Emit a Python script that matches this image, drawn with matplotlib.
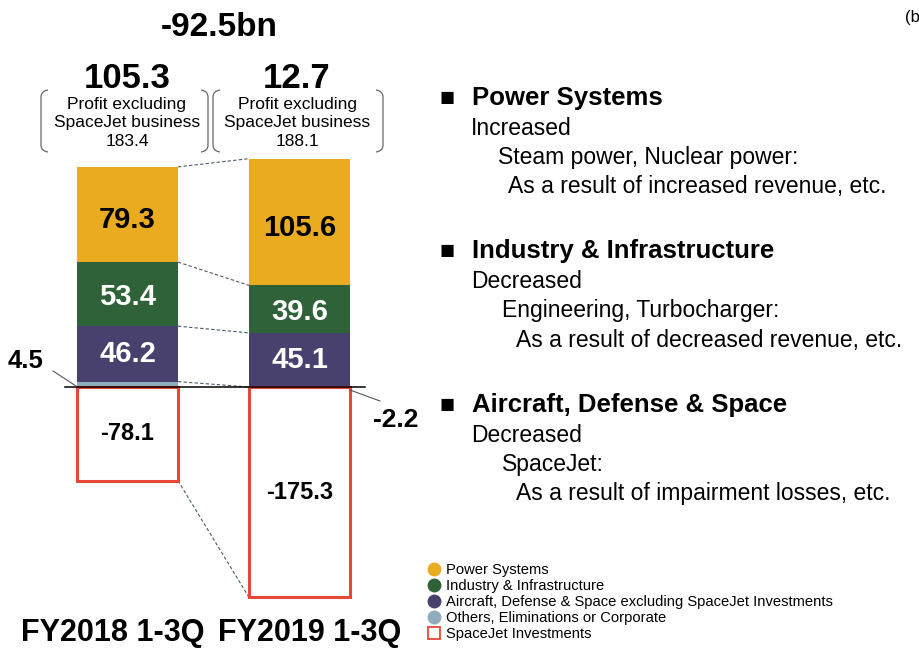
import numpy as np
import matplotlib
matplotlib.use("Agg")
import matplotlib.pyplot as plt
from matplotlib.lines import Line2D
from matplotlib.path import Path
from matplotlib.patches import PathPatch

plt.rcParams["font.family"] = ["Liberation Sans", "DejaVu Sans"]

# --- Data (billion yen) ---
periods = ["FY2018 1-3Q", "FY2019 1-3Q"]
power = [79.3, 105.6]
industry = [53.4, 39.6]
aircraft = [46.2, 45.1]
others = [4.5, -2.2]
spacejet = [-78.1, -175.3]
totals = ["105.3", "12.7"]
excl_spacejet = ["183.4", "188.1"]
change_label = "-92.5bn"

legend_labels = ["Power Systems", "Industry & Infrastructure",
                 "Aircraft, Defense & Space excluding SpaceJet Investments",
                 "Others, Eliminations or Corporate", "SpaceJet Investments"]

C_POWER = "#E9AB20"
C_IND = "#2F6239"
C_AIR = "#48416E"
C_OTH = "#8FACBC"
C_SJ = "#E84637"
C_DASH = "#4A5A6A"

W, H = 920, 648
fig = plt.figure(figsize=(W / 100, H / 100), dpi=100)


def P(x, y):
    """pixel (from top-left) -> figure fraction"""
    return x / W, 1 - y / H


# axes over whole figure; bar 0 centred at px 127.5, bar 1 at px 299.5, zero at px 387
ax = fig.add_axes([0, 0, 1, 1])
XS = 172.0
YS = 1.2
ax.set_xlim(-127.5 / XS, (W - 127.5) / XS)
ax.set_ylim(-(H - 387) / YS, 387 / YS)
ax.axis("off")

x = np.arange(len(periods))
bw = 101 / XS

oth_pos = np.array(others)
air = np.array(aircraft)
ind = np.array(industry)
pw = np.array(power)
base = np.where(oth_pos > 0, oth_pos, 0)

ax.bar(x, oth_pos, width=bw, color=C_OTH, zorder=2)
ax.bar(x, air, bottom=base, width=bw, color=C_AIR, zorder=2)
ax.bar(x, ind, bottom=base + air, width=bw, color=C_IND, zorder=2)
ax.bar(x, pw, bottom=base + air + ind, width=bw, color=C_POWER, zorder=2)
ax.bar(x, spacejet, width=bw, facecolor="white", edgecolor=C_SJ, linewidth=2.2, zorder=3)

# segment labels
for i in range(len(x)):
    ax.text(x[i], base[i] + air[i] / 2, f"{aircraft[i]}", ha="center", va="center",
            color="white", fontsize=21, fontweight="bold", zorder=5)
    ax.text(x[i], base[i] + air[i] + ind[i] / 2 - 2, f"{industry[i]}", ha="center", va="center",
            color="white", fontsize=21, fontweight="bold", zorder=5)
    ax.text(x[i], base[i] + air[i] + ind[i] + pw[i] / 2 - 5, f"{power[i]}", ha="center",
            va="center", color="black", fontsize=21, fontweight="bold", zorder=5)
    ax.text(x[i], spacejet[i] / 2, f"{spacejet[i]}", ha="center", va="center",
            color="black", fontsize=17, fontweight="bold", zorder=5)

# dashed connectors between the bars
levels = [base + air + ind + pw, base + air + ind, base + air, base]
for lv in levels:
    ax.plot([x[0] + bw / 2, x[1] - bw / 2], [lv[0], lv[1]], color=C_DASH,
            lw=0.8, ls=(0, (3, 2)), zorder=1)
ax.plot([x[0] + bw / 2, x[1] - bw / 2], [spacejet[0], spacejet[1]], color=C_DASH,
        lw=0.8, ls=(0, (3, 2)), zorder=1)

# zero line
ax.axhline(0, xmin=65 / W, xmax=365 / W, color="black", lw=1.1, zorder=4)

# others labels with leader lines
fig.text(*P(26, 361), f"{others[0]}", ha="center", va="center", fontsize=18.5, fontweight="bold")
fig.add_artist(Line2D([P(53, 371)[0], P(76, 386)[0]], [P(53, 371)[1], P(76, 386)[1]],
                      color="#555555", lw=0.8, transform=fig.transFigure))
fig.text(*P(396, 420), f"{others[1]}", ha="center", va="center", fontsize=19, fontweight="bold")
fig.add_artist(Line2D([P(350, 390)[0], P(380, 401)[0]], [P(350, 390)[1], P(380, 401)[1]],
                      color="#555555", lw=0.8, transform=fig.transFigure))

# top headline
fig.text(*P(219, 27), change_label, ha="center", va="center", fontsize=24, fontweight="bold")
fig.text(*P(905, 22), "(bn yen)", ha="left", va="baseline", fontsize=12)

# totals + "profit excluding SpaceJet" boxes
centres = [127, 297]
brackets = [(41, 208), (213, 383)]
for i, cx in enumerate(centres):
    fig.text(*P(cx, 88), totals[i], ha="center", va="baseline", fontsize=25, fontweight="bold")
    fig.text(*P(cx, 105), "Profit excluding", ha="center", va="center", fontsize=12.5)
    fig.text(*P(cx, 123), "SpaceJet business", ha="center", va="center", fontsize=12.5)
    fig.text(*P(cx, 142), excl_spacejet[i], ha="center", va="center", fontsize=12.5)
    for xe, d in ((brackets[i][0], 1), (brackets[i][1], -1)):
        top, bot, r = 90, 152, 7
        pts = [P(xe + d * r, top), P(xe, top + 1), P(xe, top + r), P(xe, bot - r),
               P(xe, bot - 1), P(xe + d * r, bot)]
        codes = [Path.MOVETO, Path.CURVE3, Path.CURVE3, Path.LINETO, Path.CURVE3, Path.CURVE3]
        fig.add_artist(PathPatch(Path(pts, codes), fill=False, edgecolor="#666666",
                                 lw=0.9, transform=fig.transFigure))

# period labels
fig.text(*P(113, 633), periods[0], ha="center", va="center", fontsize=22, fontweight="bold")
fig.text(*P(310, 633), periods[1], ha="center", va="center", fontsize=22, fontweight="bold")

# commentary on the right
sections = [
    ("Power Systems", "Increased", "Steam power, Nuclear power:",
     "As a result of increased revenue, etc.", 498, 508),
    ("Industry & Infrastructure", "Decreased", "Engineering, Turbocharger:",
     "As a result of decreased revenue, etc.", 502, 516),
    ("Aircraft, Defense & Space", "Decreased", "SpaceJet:",
     "As a result of impairment losses, etc.", 502, 516),
]
for k, (head, trend, item, reason, x_item, x_reason) in enumerate(sections):
    y0 = 105 + 153.5 * k
    fig.text(*P(440, y0), "\u25A0", ha="left", va="baseline", fontsize=18)
    fig.text(*P(472, y0), head, ha="left", va="baseline", fontsize=18.5, fontweight="bold")
    fig.text(*P(471, y0 + 30), trend, ha="left", va="baseline", fontsize=16.5)
    fig.text(*P(x_item, y0 + 59), item, ha="left", va="baseline", fontsize=16.5)
    fig.text(*P(x_reason, y0 + 88), reason, ha="left", va="baseline", fontsize=16.5)

# legend
handles = [Line2D([], [], marker="o", ls="", markersize=9, color=c)
           for c in (C_POWER, C_IND, C_AIR, C_OTH)]
handles.append(Line2D([], [], marker="s", ls="", markersize=8.5, markerfacecolor="white",
                      markeredgecolor=C_SJ, markeredgewidth=1.3))
fig.legend(handles, legend_labels, loc="upper left", bbox_to_anchor=P(428, 563),
           frameon=False, fontsize=10.6, labelspacing=0.14, handlelength=0.8,
           handletextpad=0.45, borderpad=0, borderaxespad=0)

fig.savefig("out.png", dpi=100)
